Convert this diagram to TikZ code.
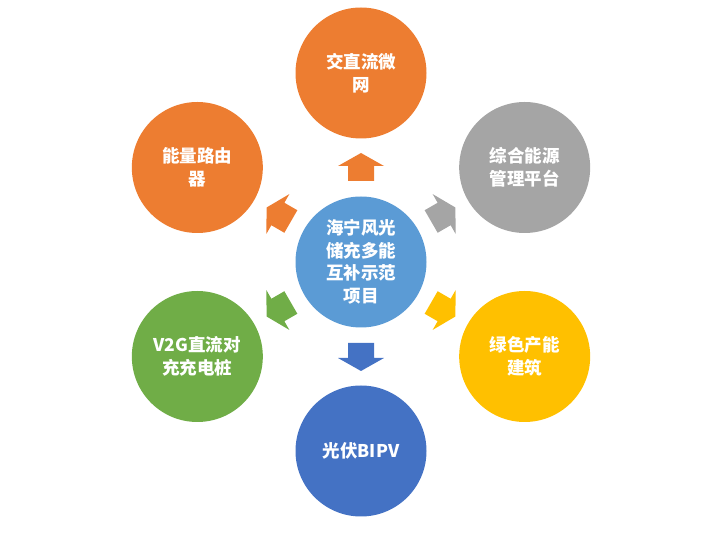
\documentclass[tikz,border=0pt]{standalone}
\usepackage{fontspec}
\newfontfamily\cjk{Noto Sans CJK SC}
\usepackage{tikz}
\usetikzlibrary{calc}

\definecolor{hubblue}{HTML}{5B9BD5}
\definecolor{offorange}{HTML}{ED7D31}
\definecolor{offgray}{HTML}{A5A5A5}
\definecolor{offyellow}{HTML}{FFC000}
\definecolor{offgreen}{HTML}{70AD47}
\definecolor{offblue}{HTML}{4472C4}

\begin{document}
\begin{tikzpicture}[x=1pt,y=1pt,bubble/.style={circle, inner sep=0pt, minimum size=131pt, text=white, align=center, font=\cjk\bfseries\fontsize{17.5}{22.5}\selectfont}]
		\useasboundingbox (0,0) rectangle (713,533);

		\node (hub) at (361,271) [bubble, fill=hubblue] {海宁风光\\储充多能\\互补示范\\项目};

		\node (acdc)   at ($(hub.center)+(90:189)$)  [bubble, fill=offorange] {交直流微\\网};
		\node (router) at ($(hub.center)+(150:189)$) [bubble, fill=offorange] {能量路由\\器};
		\node (ems)    at ($(hub.center)+(30:189)$)  [bubble, fill=offgray]   {综合能源\\管理平台};
		\node (vtog)   at ($(hub.center)+(210:189)$) [bubble, fill=offgreen]  {V2G直流对\\充充电桩};
		\node (green)  at ($(hub.center)+(-30:189)$) [bubble, fill=offyellow] {绿色产能\\建筑};
		\node (bipv)   at ($(hub.center)+(270:189)$) [bubble, fill=offblue]   {光伏BIPV};

		% block arrows from the hub
		\fill [offorange, shift={(hub.center)}, rotate=90]  (81,-13) -- (96,-13) -- (96,-23) -- (109,0) -- (96,23) -- (96,13) -- (81,13) -- cycle;
		\fill [offorange, shift={(hub.center)}, rotate=150] (81,-13) -- (96,-13) -- (96,-23) -- (109,0) -- (96,23) -- (96,13) -- (81,13) -- cycle;
		\fill [offgray,   shift={(hub.center)}, rotate=30]  (81,-13) -- (96,-13) -- (96,-23) -- (109,0) -- (96,23) -- (96,13) -- (81,13) -- cycle;
		\fill [offgreen,  shift={(hub.center)}, rotate=210] (81,-13) -- (96,-13) -- (96,-23) -- (109,0) -- (96,23) -- (96,13) -- (81,13) -- cycle;
		\fill [offyellow, shift={(hub.center)}, rotate=-30] (81,-13) -- (96,-13) -- (96,-23) -- (109,0) -- (96,23) -- (96,13) -- (81,13) -- cycle;
		\fill [offblue,   shift={(hub.center)}, rotate=270] (81,-13) -- (96,-13) -- (96,-23) -- (109,0) -- (96,23) -- (96,13) -- (81,13) -- cycle;
	\end{tikzpicture}
\end{document}
